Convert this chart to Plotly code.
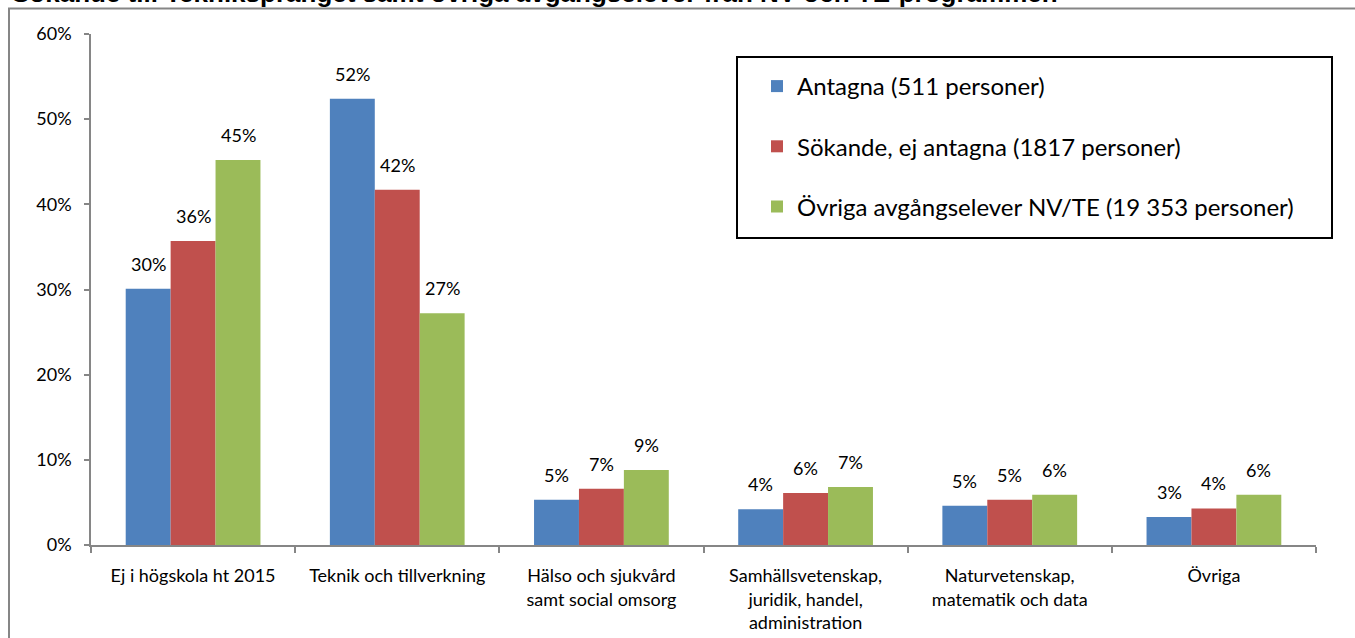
import plotly.graph_objects as go

categories = [
    "Ej i högskola ht 2015",
    "Teknik och tillverkning",
    "Hälso och sjukvård<br>samt social omsorg",
    "Samhällsvetenskap,<br>juridik, handel,<br>administration",
    "Naturvetenskap,<br>matematik och data",
    "Övriga",
]
series_names = [
    "Antagna (511 personer)",
    "Sökande, ej antagna (1817 personer)",
    "Övriga avgångselever NV/TE (19 353 personer)",
]
antagna = [0.301, 0.524, 0.053, 0.042, 0.046, 0.033]
sokande = [0.357, 0.417, 0.066, 0.061, 0.053, 0.043]
ovriga = [0.452, 0.272, 0.088, 0.068, 0.059, 0.059]
title_text = "Sökande till Tekniksprånget samt övriga avgångselever från NV och TE-programmen"

colors = ["#4F81BD", "#C0504D", "#9BBB59"]
W, H = 1355, 638
L, R, T, B = 91, 1316, 34, 545
BARGAP = 0.34


def px(x):
    return (x - L) / (R - L)


def py(y):
    return (B - y) / (B - T)


FONT = "Lato"
fig = go.Figure()
all_series = [antagna, sokande, ovriga]
for i, (name, vals) in enumerate(zip(series_names, all_series)):
    fig.add_trace(go.Bar(
        x=categories, y=vals, name=name, legendgroup=f"g{i}",
        marker=dict(color=colors[i], line=dict(width=0)),
    ))

# data labels placed via the axis scales
bar_w = (1 - BARGAP) / len(all_series)
annotations = []
for j, vals in enumerate(all_series):
    for i, v in enumerate(vals):
        annotations.append(dict(
            x=i + (j - (len(all_series) - 1) / 2) * bar_w, y=v,
            xref="x", yref="y", text=f"{v:.0%}", showarrow=False,
            yanchor="bottom", yshift=12,
            font=dict(family=FONT, size=18, color="black"),
        ))
annotations.append(dict(
    text=title_text, xref="paper", yref="paper", x=px(10), y=py(10),
    xanchor="left", yanchor="bottom", showarrow=False,
    font=dict(family="Liberation Sans", size=26, color="black", weight="bold"),
))

axis_color = "#868686"
fig.update_layout(
    width=W, height=H,
    margin=dict(l=L, r=W - R, t=T, b=H - B),
    paper_bgcolor="white", plot_bgcolor="white",
    barmode="group", bargap=BARGAP, bargroupgap=0,
    font=dict(family=FONT, size=18, color="black"),
    showlegend=True,
    legend=dict(
        x=px(757), y=py(64), xanchor="left", yanchor="top",
        font=dict(family=FONT, size=24, color="black"),
        tracegroupgap=26, bgcolor="rgba(0,0,0,0)", borderwidth=0,
    ),
    xaxis=dict(
        type="category", tickson="boundaries", ticks="outside", ticklen=6,
        tickcolor=axis_color, tickwidth=1.5, showline=True, linecolor=axis_color,
        linewidth=1.5, showgrid=False, tickfont=dict(family=FONT, size=18),
        ticklabelstandoff=14, automargin=False,
    ),
    yaxis=dict(
        range=[0, 0.6], dtick=0.1, tickformat=".0%", ticks="outside", ticklen=5,
        tickcolor=axis_color, tickwidth=1.5, showline=True, linecolor=axis_color,
        linewidth=1.5, showgrid=False, zeroline=False, automargin=False,
        tickfont=dict(family=FONT, size=18), ticklabelstandoff=9,
    ),
    shapes=[
        dict(type="rect", xref="paper", yref="paper",
             x0=px(9), x1=px(1370), y0=py(660), y1=py(8.5),
             line=dict(color=axis_color, width=2), fillcolor="rgba(0,0,0,0)", layer="below"),
        dict(type="rect", xref="paper", yref="paper",
             x0=px(737), x1=px(1332), y0=py(238), y1=py(57),
             line=dict(color="black", width=2), fillcolor="rgba(0,0,0,0)"),
    ],
    annotations=annotations,
)

fig.write_html("out.html", config={"displayModeBar": False},
               post_script="document.body.style.margin='0';")
